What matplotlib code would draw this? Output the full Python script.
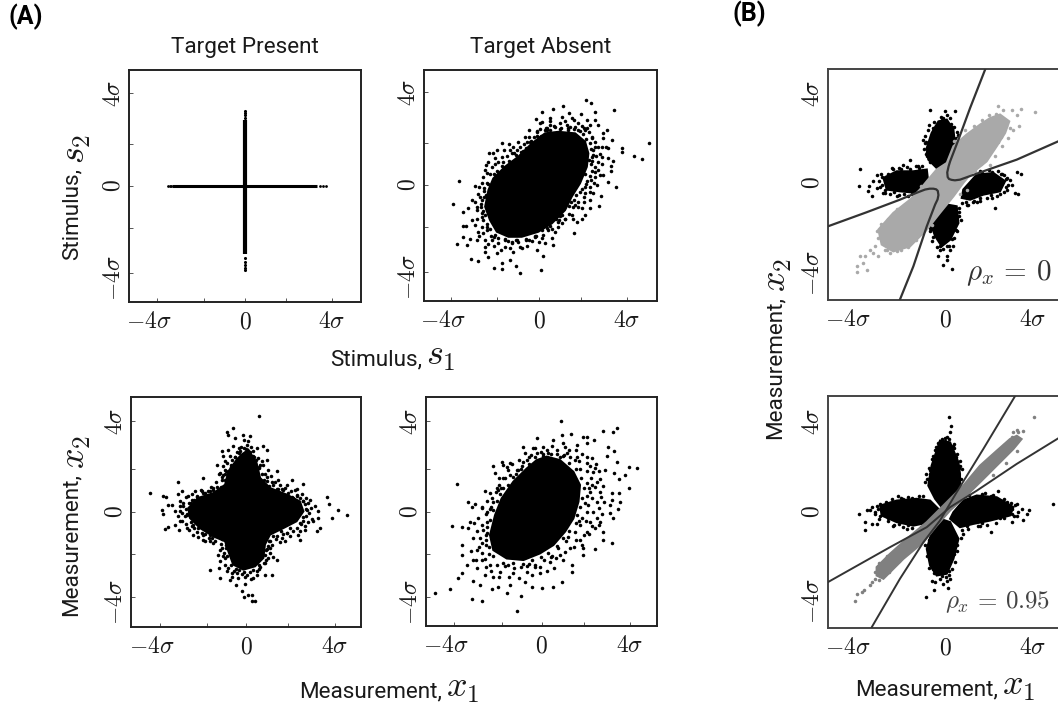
import matplotlib
matplotlib.use("Agg")
import matplotlib.pyplot as plt
import matplotlib.transforms as mtransforms
from matplotlib.patches import Polygon

# The solid middle of each cloud holds thousands of overlapping dots that cannot be
# read one by one, so it is drawn as a filled outline.
# The loose dots around it are read individually. All values are in sigma units.

# ---- panel A, target present, stimulus: points lie on the two axes
present_s_h = [-3.3, 3.25]
present_s_v = [-3.08, 3.0]
present_dots_h = [-3.48, -3.42, -3.36, 3.42, 3.55, 3.68]
present_dots_v_up = [3.1, 3.2, 3.32, 3.42]
present_dots_v_down = [-3.3, -3.45, -3.6, -3.72, -3.83]

# ---- panel A, target absent, stimulus
absent_s_core_x = [.27, .88, 1.64, 2.09, 2.24, 2.17, 1.86, 1.48, 1.18, .58, -.03, -.79, -1.39, -1.92, -2.23, -2.45, -2.30, -2.08, -1.55, -.94, -.33]
absent_s_core_y = [2.35, 2.42, 2.35, 1.97, 1.44, .83, .08, -.53, -1.14, -1.74, -2.12, -2.35, -2.35, -2.12, -1.59, -.98, -.23, .30, .83, 1.29, 1.89]
absent_s_x = [2.14, 2.35, 1.11, .12, .62, 3.41, 2.52, 1.89, 1.36, -.15, .50, .50, 1.03, 1.48, 1.59, 2.17, 2.55, .15, .02, .95, 1.26, 2.32, 2.70, 3.08, -.44, -.11, .35, 1.79, 2.02, 2.92, 3.30, 2.92, 5.00, 3.79, 3.79, 3.03, 3.15, 2.85, 4.33, 4.70, 3.12, 3.38, 2.88, 2.70, 3.27, 3.27, 2.92, 3.12, 3.48, 2.62, 2.47, 2.82, 2.32, 2.74, 2.32, 2.09, 1.97, 1.71, 1.61, 1.03, .73, .58, .27, .65, -.11, .20, .09, -.86, -1.06, -1.67, -2.05, -2.76, -3.11, -3.74, -3.89, -3.64, -3.47, -3.24, -3.44, -3.32, -3.44, -3.26, -3.14, -2.83, -2.76, -2.83, -3.06, -2.45, -2.48, -2.30, -1.92, -1.70, -1.32, -1.17, -.79, -1.70, -1.36, -1.17, -.64, -1.91, -2.27, -2.42, -2.76, -2.91, -3.06, -2.61,
              -2.68, -2.53, -2.38, -2.15, -1.85, -1.55, -1.24, -.94, -.48, -.18, .12, .42, .88, 1.18, 1.48, 1.79, 2.02, 2.09, 2.32, 2.55, 2.55, 2.70, 2.39, 2.55, 2.39, 2.09, 1.64, 1.33, .73, .35, -.03, -.56, -.86, -1.24, -1.70, -2.00, -2.38, -2.61, -2.83]
absent_s_y = [3.86, 3.71, 3.61, 3.33, 3.44, 3.42, 3.32, 3.21, 3.26, 3.00, 3.03, 2.92, 3.11, 3.03, 2.95, 2.98, 2.95, 2.88, 2.80, 2.80, 2.73, 2.73, 2.73, 2.50, 2.50, 2.42, 2.58, 2.80, 2.58, 2.35, 2.05, 2.12, 1.92, 1.70, 1.52, 1.74, 1.67, 1.74, 1.32, 1.17, 1.21, 1.11, 1.29, 1.06, .88, .65, .45, .12, -.08, 0, -.38, -.50, -.68, -.95, -1.06, -1.36, -1.56, -1.67, -2.17, -1.74, -2.12, -2.42, -2.65, -2.73, -2.95, -3.21, -3.86, -3.98, -3.68, -3.83, -3.79, -3.45, -3.36, -2.68, -.88, .20, -1.21, -1.06, -1.86, -1.86, -2.35, -2.73, -2.47, -2.50, -2.12, -1.52, -1.59, -2.80, -3.03, -3.26, -3.11, -3.56, -3.41, -3.03, -2.88, 1.92, 1.85, 1.74, 2.17, 1.59, 1.44, .91, -.41, -.05, -.68, -1.29,
              -.53, -1.59, -2.05, -2.50, -2.65, -2.80, -2.65, -2.58, -2.50, -2.35, -2.42, -2.05, -1.89, -1.52, -1.36, -.98, -.76, -.38, -.08, .38, .83, .68, 1.29, 1.74, 2.20, 2.50, 2.65, 2.58, 2.65, 2.50, 2.17, 1.97, 1.74, 1.44, 1.29, .98, .53, .08, -.98]
absent_s_edge = [(1.2, 2.9), (.7, 2.7), (.95, 2.55), (1.4, 2.62), (1.75, 2.5), (1.95, 2.7), (2.25, 2.4), (2.4, 2.15), (2.2, 2.6), (2.55, 1.95), (2.45, 1.6), (2.7, 1.75), (2.6, 1.3), (2.4, 1.1), (2.75, 1.4), (2.85, .95), (2.55, .6), (2.3, .4), (2.75, .45), (2.5, .1), (2.2, .2), (2.1, -.1), (2.3, -.3), (2.05, -.55), (1.85, -.3), (1.75, -.75), (1.95, -1.05), (1.55, -1.0), (1.6, -.7), (1.35, -1.3), (1.55, -1.55), (1.2, -1.55), (.95, -1.4), (.85, -1.7), (.6, -2.0), (.35, -1.95), (.2, -2.25), (.0, -2.6), (-.3, -2.55), (-.15, -2.3), (-.55, -2.75), (-.6, -2.45), (-.85, -2.8), (-1.05, -2.5), (-1.3, -2.85), (-1.4, -2.55), (-1.55, -2.45), (-1.75, -2.95), (-1.85, -2.4), (-2.05, -2.35), (-2.05, -2.75), (-2.3, -2.7), (-2.2, -2.3), (-2.45, -2.5), (-2.55, -2.2), (-2.35, -1.9), (-2.6, -1.9), (-2.75, -2.3), (-2.9, -1.8), (-2.6, -1.45), (-2.45, -1.35), (-2.8, -1.15), (-2.65, -.85), (-2.5, -.55), (-2.9, -.75), (-2.75, -.1), (-2.5, -.15), (-2.35, .1), (-2.55, .35), (-2.25, .5), (-2.45, .7), (-2.15, .8), (-2.3, 1.05), (-2.0, 1.25), (-1.85, 1.05), (-1.65, 1.05), (-2.1, 1.45), (-1.6, 1.6), (-1.45, 1.3), (-1.3, 1.6), (-1.15, 1.45), (-1.0, 1.6), (-.95, 1.95), (-.75, 1.55), (-.7, 1.85), (-.45, 2.2), (-.25, 2.2), (-.4, 1.95), (-.1, 2.45), (.05, 2.55), (.3, 2.6), (.5, 2.75), (.1, 2.25),
                 (.5, 2.5), (1.0, 2.6), (1.6, 2.55), (2.0, 2.3), (2.3, 1.9), (2.45, 1.35), (2.35, .95), (2.4, .65), (2.1, .5), (2.15, .05), (1.95, -.2), (1.7, -.45), (1.45, -.75), (1.35, -.95), (1.05, -1.35), (.75, -1.55), (.5, -1.85), (.15, -2.05), (-.2, -2.3), (-.6, -2.5), (-1.0, -2.5), (-1.55, -2.5), (-2.0, -2.25), (-2.35, -1.75), (-2.55, -1.2), (-2.6, -.7), (-2.5, -.25), (-2.3, .05), (-2.05, .5), (-1.7, .85), (-1.35, 1.1), (-1.05, 1.35), (-.6, 1.7), (-.35, 2.0), (-.1, 2.25), (.25, 2.5), (2.25, 1.15), (2.35, .25), (1.65, -.9), (.9, -1.6), (-1.25, -2.6), (-2.25, -2.0), (-2.65, -1.0), (-2.4, -.45), (-1.9, .65), (-.8, 1.5), (1.3, 2.5), (1.85, 2.45), (2.15, 2.1), (2.35, 1.65)]

# ---- panel A, target present, measurement
present_m_core_x = [.11, .48, .64, 1.09, 1.85, 2.45, 2.61, 2.30, 1.70, 1.09, .86, .79, .41, -.12, -.58, -.80, -.95, -1.48, -2.09, -2.55, -2.62, -2.17, -1.48, -.95, -.80, -.42, -.20]
present_m_core_y = [2.83, 2.23, 1.55, 1.09, .79, .48, .03, -.42, -.73, -1.03, -1.48, -2.09, -2.47, -2.62, -2.39, -1.79, -1.33, -1.11, -.73, -.27, .18, .64, .86, 1.24, 1.85, 2.38, 2.61]
present_m_x = [.61, -.61, -.88, -.80, -.50, -.12, -.09, .18, .11, .79, .94, .48, -1.11, -.80, -1.03, -1.33, -.58, -.30, -.95, -1.18, .79, 1.02, 1.39, .94, -1.97, -3.11, -4.36, -3.76, -3.64, -2.92, -3.08, -2.32, -2.02, -2.62, -3.00, -3.38, -3.53, -3.00, -3.23, -3.83, -3.76, -3.08, -2.92, -3.00, -3.23, -3.68, -3.53, -3.03, -2.70, -2.39, -2.17, -1.94, -1.64, -1.64, -1.21, -1.18, -1.26, -1.18, -.65, -.45, -.73, -.20, -.08, .11, .26, .26, .41, -.05, .33, .86, 1.17, 1.39, 1.24, .86, 1.09, 1.77, 1.62, 2.38, 2.45, 2.68, 3.21, 3.36, 3.06, 3.29, 3.29, 3.14, 2.91, 2.61, 2.08, 1.47, 1.77, 2.23, 2.83, 3.70, 3.77, 3.89, 4.20, 4.58,
               .33, .64, .94, 1.24, 1.70, 2.30, 2.61, 2.76, 2.61, 2.30, 1.85, 1.39, 1.09, 1.09, .86, .48, .03, -.42, -.80, -.95, -1.11, -1.48, -1.94, -2.47, -2.77, -2.85, -2.47, -1.94, -1.48, -1.11, -.95, -.65, -.27]
present_m_y = [4.35, 3.82, 3.62, 3.52, 3.36, 3.48, 3.29, 3.44, 3.21, 2.98, 2.83, 2.91, 2.76, 2.83, 2.53, 2.15, 2.98, 2.91, 2.30, 1.77, 2.15, 1.92, 1.85, 2.38, 1.55, 1.35, .86, .71, .67, .97, .82, .94, .97, .71, .48, .33, .33, .26, .03, .11, -.09, -.20, -.05, -.42, -.61, -.76, -.70, -.83, -.73, -1.06, -1.15, -1.26, -1.33, -2.65, -2.55, -3.00, -1.94, -2.24, -2.77, -3.30, -3.08, -3.61, -3.88, -3.79, -3.79, -4.06, -4.06, -3.26, -3.00, -2.85, -2.88, -2.17, -2.05, -1.94, -1.64, -1.33, -1.18, -1.03, -1.26, -.80, -.88, -.73, -.42, -.27, .03, .26, .56, 1.27, 1.47, 1.47, 1.09, 1.02, .41, .68, .38, -.27, .11, -.12,
               2.76, 2.15, 1.39, 1.24, 1.02, .79, .48, .11, -.42, -.73, -.95, -1.11, -1.33, -1.86, -2.32, -2.70, -2.85, -2.77, -2.55, -2.09, -1.64, -1.41, -1.03, -.65, -.20, .26, .56, .86, 1.09, 1.47, 1.92, 2.38, 2.76]
present_m_edge = [(.2, 2.75), (.35, 2.5), (.55, 2.45), (.75, 2.3), (.6, 2.0), (.85, 1.75), (.95, 1.6), (.75, 1.4), (1.15, 1.65), (1.3, 1.35), (1.55, 1.25), (1.45, 1.05), (1.85, 1.25), (2.05, .95), (2.3, 1.05), (2.55, .8), (2.1, .7), (2.45, .65), (2.75, .65), (2.7, .35), (2.95, .2), (2.85, -.05), (3.0, -.3), (2.8, -.45), (2.7, -.65), (2.5, -.55), (2.45, -.85), (2.15, -.85), (2.0, -1.1), (1.7, -1.0), (1.55, -1.35), (1.35, -1.25), (1.2, -1.5), (.95, -1.7), (1.0, -2.1), (.8, -2.3), (.65, -2.5), (.5, -2.85), (.2, -2.75), (.25, -3.05), (-.05, -2.95), (-.2, -2.8), (-.35, -3.0), (-.55, -2.7), (-.65, -2.95), (-.85, -2.7), (-.95, -2.4), (-1.05, -2.0), (-.9, -1.65), (-1.2, -1.75), (-1.15, -1.45), (-1.4, -1.3), (-1.7, -1.2), (-1.85, -1.3), (-2.0, -.95), (-2.25, -.9), (-2.35, -.75), (-2.6, -.8), (-2.75, -.55), (-2.9, -.4), (-2.7, -.1), (-3.0, .05), (-2.85, .4), (-2.6, .4), (-2.75, .7), (-2.45, .8), (-2.25, .75), (-2.05, 1.0), (-1.75, .95), (-1.6, 1.15), (-1.3, 1.15), (-1.35, 1.35), (-1.1, 1.6), (-1.25, 1.75), (-.95, 1.75), (-1.05, 2.1), (-.85, 2.25), (-.7, 2.05), (-.75, 2.55), (-.5, 2.5), (-.4, 2.75), (-.25, 2.95), (-.1, 2.9), (.05, 3.05), (.25, 2.95),
                  (.3, 2.55), (.6, 2.05), (.8, 1.45), (1.05, 1.2), (1.4, 1.05), (1.9, .85), (2.3, .75), (2.6, .5), (2.72, .15), (2.6, -.25), (2.45, -.5), (2.0, -.75), (1.6, -.85), (1.25, -1.1), (1.05, -1.3), (.9, -1.75), (.9, -2.2), (.6, -2.4), (.3, -2.65), (-.1, -2.75), (-.45, -2.6), (-.7, -2.4), (-.85, -2.0), (-.9, -1.5), (-1.1, -1.25), (-1.55, -1.2), (-1.85, -1.0), (-2.2, -.75), (-2.5, -.45), (-2.7, -.15), (-2.75, .15), (-2.5, .4), (-2.25, .7), (-1.85, .85), (-1.5, 1.0), (-1.15, 1.15), (-.95, 1.45), (-.9, 1.85), (-.7, 2.15), (-.5, 2.5), (-.3, 2.7), (.0, 2.85), (.45, 2.35), (.75, 1.75), (1.2, 1.35), (1.65, 1.05), (2.15, .65), (2.75, -.2), (1.85, -.95), (1.0, -1.55), (.6, -2.6), (-.3, -2.65), (-1.0, -1.85), (-1.65, -1.05), (-2.4, -.6), (-2.35, .55), (-1.65, .95), (-1.05, 1.7)]

# ---- panel A, target absent, measurement
absent_m_core_x = [.23, .83, 1.44, 1.74, 1.67, 1.44, 1.06, .53, -.08, -.83, -1.59, -2.20, -2.35, -2.12, -1.82, -1.29, -.68, -.23]
absent_m_core_y = [2.52, 2.36, 1.83, 1.23, .47, -.29, -.89, -1.50, -1.88, -2.18, -2.11, -1.73, -1.05, -.14, .62, 1.38, 1.98, 2.36]
absent_m_x = [.88, 2.77, 3.23, 3.41, .91, 1.33, -.20, .53, 1.89, 2.05, 2.38, -.83, -.76, -.38, .08, .98, 1.59, 2.05, 3.03, 3.29, 2.95, 3.41, -2.20, -1.82, -1.74, -2.12, -1.52, 3.98, 4.32, 3.77, 3.29, 3.50, 2.88, 2.42, 3.98, 3.50, 3.18, 3.55, 3.20, 3.11, 3.48, 3.26, 3.11, 2.80, 3.18, 2.80, 2.42, 1.89, 1.36, .91, .53, 0, -.45, -.95, -1.11, -1.59, -1.97, -2.27, -2.70, -3.18, -4.17, -4.85, -3.82, -3.64, -3.11, -2.80, -3.41, -3.64, -3.64, -4.06, -3.64, -3.33, -3.26, -3.36, -3.02, -3.17, -3.83, -2.58, -2.73, -3.11, -2.95, -3.11, -2.73, -2.58, -2.20, -1.44, -.76, 1.36, 1.89, 2.42, 2.65,
              -1.44, -1.14, -.83, -.23, .23, .68, 1.14, 1.59, 2.05, 2.35, 2.50, 2.65, 2.50, 2.35, 2.20, 2.05, 1.74, 1.29, .83, .38, -.08, -.68, -1.29, -1.89, -2.35, -2.73, -2.80, -2.73, -2.50, -2.27, -2.05, -1.74]
absent_m_y = [4.14, 3.68, 3.65, 3.83, 3.50, 3.55, 3.38, 3.27, 3.42, 3.42, 3.27, 2.97, 2.67, 2.89, 2.97, 3.12, 3.05, 3.12, 2.97, 2.79, 2.56, 2.29, 2.11, 2.26, 2.14, 1.76, 1.91, 2.05, 1.98, 1.68, 1.76, 1.50, 1.91, 1.98, 1.08, .88, .85, .44, .55, .32, .14, -.29, -.06, -.89, -1.39, -1.27, -1.68, -1.95, -2.71, -3.17, -3.39, -3.47, -3.39, -3.80, -4.50, -3.70, -3.39, -3.50, -4.03, -3.95, -3.52, -3.70, -2.98, -2.79, -3.14, -3.32, -2.41, -1.95, -1.50, -.62, -.67, -.74, -.44, .44, .36, .24, 1.27, .97, .24, -1.20, -1.73, -2.18, -2.18, -2.86, -2.94, -3.32, -3.17, -2.41, -1.65, -.74, -.44,
              2.21, 1.91, 2.29, 2.67, 2.82, 2.82, 2.67, 2.52, 2.21, 1.83, 1.38, .92, .47, .02, -.44, -.89, -1.27, -1.65, -1.95, -2.26, -2.48, -2.71, -2.79, -2.71, -2.41, -1.88, -1.20, -.59, .02, .62, 1.08, 1.53]
absent_m_edge = [(-1.6, 2.05), (-1.35, 2.2), (-1.05, 2.35), (-.9, 2.1), (-.65, 2.35), (-.5, 2.6), (-.3, 2.9), (-.05, 2.75), (.05, 2.55), (.3, 2.7), (.45, 3.0), (.7, 2.65), (.95, 2.55), (1.05, 2.95), (1.3, 2.5), (1.25, 2.8), (1.55, 2.8), (1.7, 2.3), (1.85, 2.65), (2.05, 2.5), (2.2, 2.1), (2.3, 2.45), (2.45, 2.2), (2.05, 1.85), (2.25, 1.55), (2.6, 1.85), (2.65, 1.5), (2.8, 1.2), (2.4, 1.15), (2.15, 1.1), (2.05, .75), (2.7, .7), (2.3, .65), (2.85, .45), (2.1, .3), (2.6, .2), (2.75, -.1), (2.05, .0), (1.85, -.25), (2.5, -.25), (2.6, -.6), (2.3, -.65), (1.75, -.6), (2.15, -1.0), (1.9, -1.05), (1.5, -.9), (1.55, -1.25), (1.85, -1.5), (1.1, -1.3), (1.45, -1.6), (1.05, -1.8), (.75, -1.65), (.65, -2.1), (.95, -2.2), (.4, -2.05), (.55, -2.55), (.1, -2.2), (.25, -2.7), (-.1, -2.75), (-.3, -2.4), (-.45, -2.85), (-.65, -2.45), (-.95, -2.5), (-1.05, -3.0), (-1.25, -2.55), (-1.5, -2.95), (-1.65, -2.45), (-1.95, -2.95), (-2.05, -2.4), (-2.3, -2.7), (-2.55, -2.5), (-2.6, -2.15), (-2.95, -2.55), (-3.0, -2.2), (-2.85, -1.6), (-2.55, -1.5), (-3.2, -1.75), (-2.55, -1.05), (-2.65, -.8), (-2.95, -.85), (-3.1, -.5), (-2.5, -.45), (-2.9, -.25), (-2.55, -.1), (-2.35, .15), (-2.7, .2), (-2.5, .5), (-2.2, .45), (-2.35, .85), (-2.1, .9), (-1.95, 1.25), (-1.75, 1.1), (-1.65, 1.55), (-1.45, 1.7), (-1.95, 1.55), (-1.15, 1.75),
                 (.4, 2.65), (.85, 2.5), (1.25, 2.25), (1.55, 1.95), (1.8, 1.55), (1.9, 1.1), (1.85, .65), (1.75, .25), (1.6, -.15), (1.55, -.5), (1.25, -.85), (.95, -1.2), (.7, -1.55), (.3, -1.85), (-.05, -2.05), (-.45, -2.2), (-.85, -2.35), (-1.3, -2.3), (-1.75, -2.3), (-2.2, -2.0), (-2.4, -1.6), (-2.55, -1.25), (-2.5, -.7), (-2.35, -.35), (-2.2, .1), (-2.05, .5), (-1.9, .8), (-1.55, 1.25), (-1.3, 1.6), (-.95, 1.95), (-.6, 2.2), (-.3, 2.5), (.05, 2.65), (1.0, 2.6), (1.75, 1.95), (2.05, 1.3), (1.95, .4), (1.7, -.4), (1.2, -1.15), (.45, -2.0), (-.6, -2.35), (-1.55, -2.4), (-2.4, -1.9), (-2.5, -.95), (-2.3, .25), (-1.85, 1.1), (-1.1, 1.9), (2.2, .9), (2.0, -.4), (-.3, -2.5), (-2.7, -1.4), (-2.0, 1.0), (-.6, 2.5), (1.5, 2.35), (2.3, 1.25)]

# ---- panel B, rho = 0
b0_gray_core_x = [2.05, 2.50, 2.92, 2.73, 2.35, 1.89, 1.14, .83, .38, -.23, -.83, -1.59, -2.35, -2.88, -3.03, -2.35, -1.59, -1.14, -.83, -.38, .08, .38, .98, 1.59]
b0_gray_core_y = [2.95, 3.11, 2.80, 2.27, 1.67, .98, .38, 0, -.61, -1.36, -2.12, -2.88, -3.11, -2.80, -2.12, -1.36, -.76, -.30, .08, .61, .91, 1.67, 2.20, 2.65]
b0_gray_x = [2.42, 2.65, 3.03, 3.44, 4.09, 3.26, 3.38, 3.11, 2.88, 2.58, 2.27, 2.05, -3.18, -3.41, -3.64, -3.86, -4.02, -3.98, -3.56, -3.71, -3.03, -3.26, -2.65, -2.20]
b0_gray_y = [3.48, 3.33, 3.33, 3.36, 3.23, 3.11, 2.58, 2.42, 2.05, 1.67, 1.21, .83, -2.88, -3.03, -3.33, -3.33, -3.79, -4.06, -3.94, -3.64, -3.33, -3.18, -3.03, -3.11]
b0_gray_edge = [(2.95, 2.5), (2.75, 2.6), (2.6, 2.9), (2.3, 3.15), (2.0, 3.1), (1.7, 2.85), (1.3, 2.6), (.9, 2.4), (.6, 2.0), (.4, 1.9), (2.55, 2.1), (2.4, 1.85), (2.15, 1.55), (1.95, 1.25), (1.65, .85), (1.35, .55), (-3.05, -2.5), (-3.1, -2.2), (-2.9, -1.85), (-2.6, -1.65), (-2.2, -1.2), (-1.85, -1.0), (-2.75, -3.05), (-2.5, -3.2), (-2.0, -3.05), (-1.7, -2.9), (-1.3, -2.6), (-.95, -2.2), (-.6, -1.9), (1.0, -.3), (.7, -.5), (-1.1, -.15)]
b0_top_x = [-.30, .08, .38, .45, .23, 0, -.38, -.76, -.83, -.61]
b0_top_y = [2.80, 2.88, 2.42, 1.82, 1.36, .76, .68, 1.06, 1.59, 2.27]
b0_left_x = [-2.80, -2.20, -1.44, -.83, -.76, -1.29, -2.05, -2.65]
b0_left_y = [.23, .53, .53, .61, 0, -.45, -.38, -.30]
b0_right_x = [.83, 1.44, 2.20, 2.73, 2.50, 1.74, 1.14, .76]
b0_right_y = [-.30, .38, .45, .08, -.38, -.53, -.76, -.68]
b0_bottom_x = [.08, .53, .61, .23, -.15, -.45, -.61, -.23]
b0_bottom_y = [-.98, -1.06, -1.82, -2.58, -2.88, -2.42, -1.97, -1.36]
b0_black_x = [-.68, 0, .45, .08, -.15, -.98, -.91, -.76, .23, .61, -.61, -.83, -3.86, -3.91, -3.11, -2.42, -1.89, -1.59, -1.21, -3.48, -3.33, -3.11, -3.26, -3.44, -2.80, -2.20, 3.26, 3.44, 2.58, 2.80, 3.03, 3.18, 3.33, 2.80, 2.27, .98, 1.59, 2.12, -.23, .08, -.30, -.08, .30, .08, .23, .38, -.68]
b0_black_y = [3.30, 3.29, 3.26, 3.11, 2.88, 1.97, 1.82, 2.42, 2.95, 2.20, 1.52, 1.21, .64, -.12, .38, .68, .83, 1.06, .76, -.38, -.61, -.23, .08, -.15, -.45, -.61, .50, .41, .42, .23, -.08, -.45, -.48, -.30, -1.14, -.98, -.83, -.68, -3.03, -3.33, -3.33, -3.71, -3.89, -3.48, -3.03, -2.88, -2.05]
b0_black_edge = [(-.75, 2.65), (-.5, 2.75), (-.1, 2.95), (.25, 2.7), (.42, 2.55), (.55, 2.3), (.6, 1.9), (.55, 1.55), (-.95, 1.55), (-.9, 2.15), (-.85, 1.3), (-.7, .95), (.35, 1.1), (-.2, 3.0),
                 (-2.9, .4), (-3.0, .1), (-2.95, -.2), (-2.75, -.45), (-2.35, .65), (-2.1, .7), (-1.75, .72), (-1.3, .75), (-1.05, .75), (-2.5, -.5), (-2.1, -.55), (-1.7, -.6), (-1.35, -.6),
                 (1.6, .55), (2.0, .6), (2.4, .55), (2.7, .35), (2.85, -.1), (2.7, -.4), (2.35, -.6), (1.9, -.7), (1.45, -.85), (1.05, -1.0), (.75, -.9), (2.95, .15), (1.25, -.85),
                 (-.6, -1.4), (-.7, -2.2), (-.6, -2.65), (-.35, -2.9), (-.1, -3.0), (.2, -2.85), (.4, -2.5), (.55, -2.2), (.72, -1.7), (.65, -1.3), (-.75, -1.9),
                 (-.55, 2.5), (.3, 2.55), (.5, 2.05), (.5, 1.7), (-.85, 1.85), (-.8, 1.4), (-.75, 1.15), (.3, 1.45), (-.4, 2.6), (0, 2.75),
                 (-2.85, .25), (-2.85, -.1), (-2.6, .4), (-2.0, .62), (-1.6, .65), (-1.2, .66), (-2.3, -.42), (-1.85, -.48), (-1.5, -.5), (-2.75, -.3),
                 (1.7, .45), (2.15, .52), (2.55, .4), (2.75, .2), (2.75, -.2), (2.5, -.48), (2.1, -.55), (1.6, -.68), (1.3, -.8), (.95, -.85),
                 (-.55, -1.7), (-.62, -2.1), (-.55, -2.45), (-.25, -2.85), (.1, -2.85), (.3, -2.55), (.5, -2.15), (.65, -1.5), (.62, -1.15), (-.35, -1.2)]
b0_line1_x = [1.82, 1.14, .61, .23, .16, .10, .12, .18, .30, .45, .68, 1.1, 1.74, 3.26, 5.14]
b0_line1_y = [5.15, 3.41, 1.97, .98, .75, .48, .27, .18, .14, .12, .15, .3, .53, 1.06, 1.89]
b0_line2_x = [-2.05, -1.44, -.83, -.45, -.34, -.30, -.33, -.40, -.53, -.70, -.91, -1.3, -2.05, -3.56, -5.32]
b0_line2_y = [-5.30, -3.79, -1.97, -.98, -.75, -.55, -.36, -.29, -.26, -.26, -.30, -.45, -.76, -1.33, -1.97]

# ---- panel B, rho = 0.95
b95_gray_core_x = [3.26, 3.48, 3.11, 2.50, 1.74, .98, .23, -.38, -.98, -1.89, -2.80, -3.11, -3.11, -2.50, -1.74, -.83, -.08, .83, 1.59, 2.35, 2.95]
b95_gray_core_y = [3.45, 3.30, 2.85, 2.24, 1.48, .73, .05, -.64, -1.39, -2.15, -3.06, -2.91, -2.53, -1.92, -1.24, -.48, .27, 1.18, 2.09, 2.77, 3.30]
b95_gray_x = [4.05, 3.56, 3.26, 3.11, -3.41, -3.33, -4.02, -3.79, -3.68, -4.08, -3.18]
b95_gray_y = [4.32, 3.68, 3.73, 3.61, -3.36, -3.21, -3.74, -3.67, -3.59, -4.09, -3.06]
b95_gray_edge = [(3.3, 3.6), (3.05, 3.4), (2.7, 3.05), (2.35, 2.55), (1.85, 2.05), (1.45, 1.75), (3.25, 2.75), (2.75, 2.2), (2.2, 1.65), (-3.2, -2.75), (-3.0, -2.35), (-2.65, -2.0), (-3.0, -3.1), (-2.55, -2.75), (-2.1, -2.25)]
b95_top_x = [-.23, .23, .61, .68, .68, .23, -.15, -.45, -.76, -.61]
b95_top_y = [3.23, 3.15, 2.24, 1.71, 1.18, .42, .20, .58, 1.18, 2.09]
b95_left_x = [-2.95, -2.20, -1.29, -.68, -.23, -.68, -1.44, -2.20, -2.88]
b95_left_y = [.27, .50, .58, .50, .05, -.48, -.64, -.48, -.18]
b95_right_x = [.38, .83, 1.44, 2.35, 3.11, 2.95, 2.05, 1.29, .68, .23]
b95_right_y = [-.03, .50, .73, .65, .20, -.18, -.41, -.56, -.71, -.33]
b95_bottom_x = [-.23, .23, .61, .38, .08, -.38, -.68, -.83, -.61]
b95_bottom_y = [-.33, -.48, -1.24, -2.15, -2.83, -2.91, -2.45, -1.70, -.94]
b95_black_x = [.18, .27, .23, -.15, .08, .41, -.68, -.76, .68, -2.12, -2.95, -3.41, -3.53, -3.92, -3.64, -3.64, -3.33, -3.11, -3.18, -2.35, -1.74, -.98, 2.42, 2.80, 3.26, 3.48, 3.83, 3.71, 3.53, 3.03, 3.26, 2.08, 1.59, .83, 4.92, -.86, -.50, .15, -.08, -.61, .23, -.45, .08]
b95_black_y = [4.32, 3.91, 3.61, 3.30, 3.38, 3.08, 1.71, 1.48, 2.09, .73, .35, .05, .05, -.11, -.48, -.82, -.56, -.56, -.03, -.64, -.79, .73, .95, .42, .35, .12, .05, -.11, -.38, -.48, -.18, -.94, -.64, -1.02, .33, -3.89, -3.59, -3.48, -3.29, -3.14, -3.06, -3.21, -3.14]
b95_black_edge = [(-.3, 3.1), (-.45, 2.8), (-.6, 2.4), (-.72, 2.0), (-.85, 1.7), (-.9, 1.35), (.4, 2.9), (.55, 2.6), (.68, 2.3), (.75, 1.95), (.2, 3.3), (0, 3.35), (-.15, 3.2),
                  (-3.1, .25), (-3.2, -.1), (-3.0, -.35), (-2.7, .45), (-2.4, .55), (-2.0, .62), (-1.7, .68), (-1.2, .7), (-2.6, -.45), (-2.3, -.6), (-1.9, -.7), (-1.5, -.75), (-1.1, -.7), (-2.85, .05), (-3.3, .2),
                  (3.2, .3), (3.3, 0), (3.15, -.2), (2.7, .55), (2.2, .75), (1.8, .85), (1.1, .75), (2.7, -.3), (2.3, -.5), (1.9, -.6), (1.5, -.65), (1.05, -.8), (.75, -.85), (3.0, .4),
                  (-.8, -2.0), (-.72, -2.55), (-.5, -2.8), (-.25, -3.05), (.05, -3.0), (.3, -2.6), (.45, -2.3), (.55, -1.8), (.72, -1.2), (-.9, -1.5), (.2, -2.9),
                  (-.4, 2.95), (-.55, 2.55), (-.7, 1.9), (-.8, 1.5), (.35, 3.0), (.5, 2.5), (.65, 2.0), (.72, 1.5), (.0, 3.2),
                  (-3.05, .1), (-2.7, .35), (-2.5, .4), (-1.9, .55), (-1.5, .6), (-2.6, -.3), (-2.1, -.55), (-1.7, -.62), (-2.95, -.2),
                  (1.7, .78), (2.1, .7), (2.6, .5), (3.05, .1), (3.05, -.1), (2.5, -.3), (1.7, -.5), (1.0, -.65),
                  (-.75, -1.8), (-.7, -2.2), (-.55, -2.6), (-.15, -2.95), (.2, -2.7), (.42, -1.95), (.55, -1.5), (-.75, -1.3)]
b95_line1_x = [-3.33, -2.05, -.98, -.23, .53, 1.74, 3.21]
b95_line1_y = [-5.26, -3.06, -1.39, -.41, .88, 2.85, 5.30]
b95_line2_x = [-5.32, -2.50, -.83, .23, 1.44, 3.26, 5.14]
b95_line2_y = [-3.21, -1.62, -.71, .20, .95, 2.17, 3.33]

W, H = 1058, 705
LABEL_FONT = ["Roboto", "Liberation Sans", "DejaVu Sans"]
INK = "#1a1a1a"
GRAY_LIGHT = "#a9a9a9"
GRAY_DARK = "#808080"
DOT = 6.5
TEXT_SIZE = 16.2

plt.rcParams["mathtext.fontset"] = "cm"
plt.rcParams["font.family"] = LABEL_FONT

fig = plt.figure(figsize=(W / 100, H / 100), dpi=100)


def panel(left, right, top, bottom, xlim, ylim, xticks, yticks, tick_len=3, shift=True, spine="#222222"):
    ax = fig.add_axes([left / W, 1 - bottom / H, (right - left) / W, (bottom - top) / H])
    ax.set_xlim(*xlim)
    ax.set_ylim(*ylim)
    ax.set_xticks(xticks)
    ax.set_yticks(yticks)
    xlabels = [r"$-4\sigma$", "", "$0$", "", r"$4\sigma$"] if len(xticks) == 5 else [r"$-4\sigma$", "$0$", r"$4\sigma$"]
    ylabels = [r"$-4\sigma$", "", "$0$", "", r"$4\sigma$"] if len(yticks) == 5 else [r"$-4\sigma$", "$0$", r"$4\sigma$"]
    ax.set_xticklabels(xlabels, fontsize=17, color=INK)
    ax.set_yticklabels(ylabels, fontsize=17, color=INK, rotation=90, va="center")
    ax.tick_params(axis="x", direction="in", length=tick_len, width=0.7, color="#555555", pad=6)
    ax.tick_params(axis="y", direction="in", length=tick_len, width=0.7, color="#555555", pad=3)
    for s in ax.spines.values():
        s.set_linewidth(1.4)
        s.set_color(spine)
    if shift:
        # the minus sign pushes the visible label off its tick in the original
        off_x = mtransforms.ScaledTranslation(-8 / 100, 0, fig.dpi_scale_trans)
        off_y = mtransforms.ScaledTranslation(0, -5 / 100, fig.dpi_scale_trans)
        lab = ax.get_xticklabels()[0]
        lab.set_transform(lab.get_transform() + off_x)
        lab = ax.get_yticklabels()[0]
        lab.set_transform(lab.get_transform() + off_y)
    return ax


def cloud(ax, core_x, core_y, dots_x, dots_y, edge, color="black", z=2):
    ax.add_patch(Polygon(list(zip(core_x, core_y)), closed=True, fc=color, ec=color, lw=1.5, zorder=z))
    ax.scatter(dots_x, dots_y, s=DOT, c=color, linewidths=0, zorder=z)
    ax.scatter([p[0] for p in edge], [p[1] for p in edge], s=DOT, c=color, linewidths=0, zorder=z)


def label_h(x_join, y, words, sym):
    fig.text(x_join / W, 1 - y / H, words, ha="right", va="baseline", fontsize=TEXT_SIZE, color=INK)
    fig.text((x_join + 4) / W, 1 - y / H, sym, ha="left", va="baseline", fontsize=26, color=INK)


def label_v(x, y_join, words, sym, sym_dx=4):
    fig.text(x / W, 1 - y_join / H, words, ha="center", va="top", rotation=90, fontsize=TEXT_SIZE, color=INK)
    fig.text((x + sym_dx) / W, 1 - (y_join - 4) / H, sym, ha="center", va="bottom", rotation=90, fontsize=26, color=INK)


ax1 = panel(129, 361, 70, 302, (-5.27, 5.27), (-5.28, 5.26), [-4, -1.86, 0, 1.86, 3.95], [-3.97, -1.9, 0, 1.9, 4.21])
ax2 = panel(424, 657, 70, 301, (-5.23, 5.36), (-5.27, 5.23), [-4, -1.9, 0, 1.9, 4], [-3.97, -1.9, 0, 1.9, 4.21])
ax3 = panel(131, 361, 397, 627, (-5.23, 5.23), (-5.23, 5.23), [-3.9, -1.77, 0, 1.91, 4.05], [-3.86, -1.91, 0, 1.95, 4.14])
ax4 = panel(426, 657, 397, 626, (-5.26, 5.24), (-5.18, 5.23), [-4, -1.8, 0, 1.9, 4], [-3.86, -1.91, 0, 1.95, 4.14])
ax5 = panel(828, 1059, 69, 300, (-5.32, 5.18), (-5.32, 5.18), [-4.4, 0, 4.0], [-4.09, 0, 4.09], tick_len=0, shift=False, spine="#444444")
ax6 = panel(828, 1059, 396, 628, (-5.32, 5.18), (-5.30, 5.26), [-4.4, 0, 4.0], [-4.09, 0, 4.09], tick_len=0, shift=False, spine="#444444")

# target present stimulus
ax1.plot(present_s_h, [0, 0], color="black", lw=2.2, solid_capstyle="butt")
ax1.plot([0, 0], present_s_v, color="black", lw=3, solid_capstyle="butt")
ax1.scatter(present_dots_h, [0] * len(present_dots_h), s=4, c="black", linewidths=0)
ax1.scatter([0] * len(present_dots_v_up), present_dots_v_up, s=5, c="black", linewidths=0)
ax1.scatter([0] * len(present_dots_v_down), present_dots_v_down, s=5, c="black", linewidths=0)

cloud(ax2, absent_s_core_x, absent_s_core_y, absent_s_x, absent_s_y, absent_s_edge)
cloud(ax3, present_m_core_x, present_m_core_y, present_m_x, present_m_y, present_m_edge)
cloud(ax4, absent_m_core_x, absent_m_core_y, absent_m_x, absent_m_y, absent_m_edge)

# panel B: black lobes first, the gray class on top, boundaries last
for lobe_x, lobe_y in [(b0_top_x, b0_top_y), (b0_left_x, b0_left_y), (b0_right_x, b0_right_y), (b0_bottom_x, b0_bottom_y)]:
    ax5.add_patch(Polygon(list(zip(lobe_x, lobe_y)), closed=True, fc="black", ec="black", lw=1.5, zorder=2))
ax5.scatter(b0_black_x, b0_black_y, s=DOT, c="black", linewidths=0, zorder=2)
ax5.scatter([p[0] for p in b0_black_edge], [p[1] for p in b0_black_edge], s=DOT, c="black", linewidths=0, zorder=2)
cloud(ax5, b0_gray_core_x, b0_gray_core_y, b0_gray_x, b0_gray_y, b0_gray_edge, color=GRAY_LIGHT, z=3)
ax5.plot(b0_line1_x, b0_line1_y, color="#333333", lw=1.6, zorder=4)
ax5.plot(b0_line2_x, b0_line2_y, color="#333333", lw=1.6, zorder=4)
ax5.text(4.85, -4.1, r"$\rho_x\,=\,0$", ha="right", va="center", fontsize=21, color="#333333")

for lobe_x, lobe_y in [(b95_top_x, b95_top_y), (b95_left_x, b95_left_y), (b95_right_x, b95_right_y), (b95_bottom_x, b95_bottom_y)]:
    ax6.add_patch(Polygon(list(zip(lobe_x, lobe_y)), closed=True, fc="black", ec="black", lw=1.5, zorder=2))
ax6.scatter(b95_black_x, b95_black_y, s=DOT, c="black", linewidths=0, zorder=2)
ax6.scatter([p[0] for p in b95_black_edge], [p[1] for p in b95_black_edge], s=DOT, c="black", linewidths=0, zorder=2)
cloud(ax6, b95_gray_core_x, b95_gray_core_y, b95_gray_x, b95_gray_y, b95_gray_edge, color=GRAY_DARK, z=3)
ax6.plot(b95_line1_x, b95_line1_y, color="#333333", lw=1.4, zorder=4)
ax6.plot(b95_line2_x, b95_line2_y, color="#333333", lw=1.4, zorder=4)
ax6.text(4.8, -4.1, r"$\rho_x\,=\,0.95$", ha="right", va="center", fontsize=18, color="#444444")

# titles and panel letters
fig.text(245 / W, 1 - 47 / H, "Target Present", ha="center", va="center", fontsize=TEXT_SIZE, color=INK)
fig.text(541 / W, 1 - 47 / H, "Target Absent", ha="center", va="center", fontsize=TEXT_SIZE, color=INK)
fig.text(8 / W, 1 - 17 / H, "(A)", ha="left", va="center", fontsize=18, fontweight="bold", color="black")
fig.text(733 / W, 1 - 14 / H, "(B)", ha="left", va="center", fontsize=18, fontweight="bold", color="black")

label_h(422, 365, "Stimulus,", "$s_1$")
label_h(442, 697, "Measurement,", "$x_1$")
label_h(998, 695, "Measurement,", "$x_1$")
label_v(72, 168, "Stimulus,", "$s_2$", sym_dx=3)
label_v(71, 473, "Measurement,", "$x_2$")
label_v(775, 296, "Measurement,", "$x_2$", sym_dx=1)

fig.savefig("out.png", dpi=100)
